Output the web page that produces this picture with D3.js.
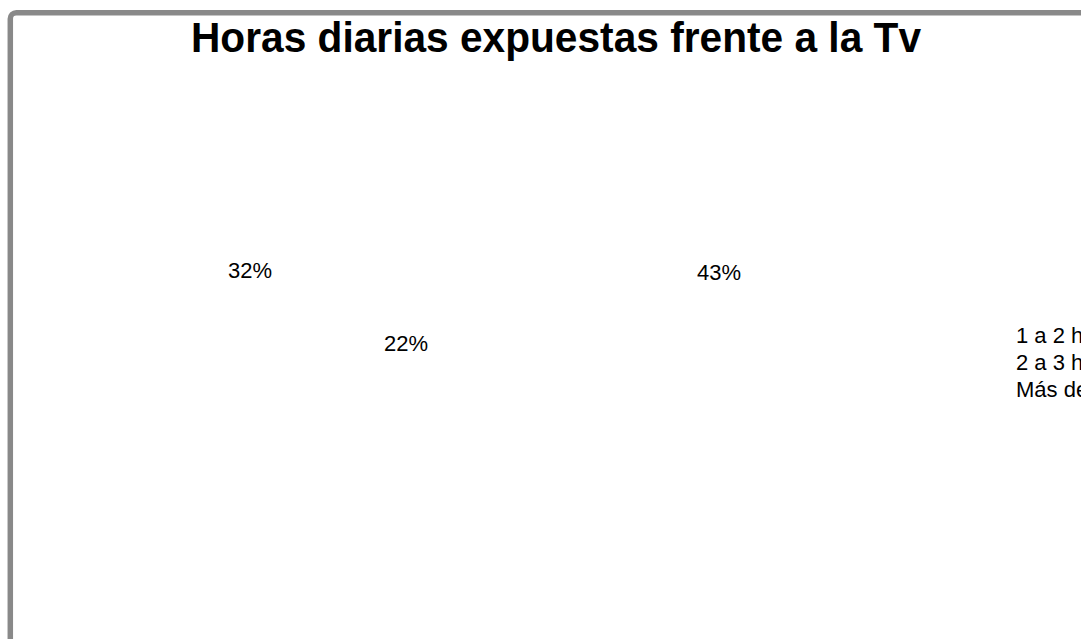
<!DOCTYPE html>
<html>
<head>
<meta charset="utf-8">
<script src="https://cdn.jsdelivr.net/npm/d3@7"></script>
<style>
  html, body { margin: 0; padding: 0; background: #fff; overflow: hidden; }
  svg { display: block; }
</style>
</head>
<body>
<svg id="chart" width="1081" height="639"></svg>
<script>
// ---- data ----
const title = "Horas diarias expuestas frente a la Tv";
const categories = ["1 a 2 horas", "2 a 3 horas", "Más de 3 horas"];
const values = [43, 22, 32];
const valueLabels = ["43%", "22%", "32%"];

// ---- layout (not data) ----
const W = 1081, H = 639;
const pieCenter = [480, 330], pieRadius = 230;
// label anchors as offsets from the pie centre (Excel best-fit placement)
const labelOffsets = [[239, -50], [-74, 21], [-230, -52]];

const svg = d3.select("#chart");

// chart border (extends beyond viewport right/bottom)
svg.append("rect")
  .attr("x", 10.3).attr("y", 12.8)
  .attr("width", 1200).attr("height", 800)
  .attr("rx", 6).attr("ry", 6)
  .attr("fill", "#fff")
  .attr("stroke", "#898989")
  .attr("stroke-width", 5.5);

// title
svg.append("text")
  .attr("x", 556).attr("y", 52)
  .attr("text-anchor", "middle")
  .attr("font-family", "'Liberation Sans', Arial, sans-serif")
  .attr("font-weight", "bold")
  .attr("font-size", 43)
  .attr("textLength", 730)
  .attr("lengthAdjust", "spacingAndGlyphs")
  .attr("fill", "#000")
  .text(title);

// pie (slices have no visible fill in the reference)
const pie = d3.pie().sort(null).value(d => d);
const arcs = pie(values);
const arc = d3.arc().innerRadius(0).outerRadius(pieRadius);
const g = svg.append("g").attr("transform", `translate(${pieCenter[0]},${pieCenter[1]})`);
g.selectAll("path.slice").data(arcs).join("path")
  .attr("class", "slice")
  .attr("d", arc)
  .attr("fill", "#fff")
  .attr("stroke", "none");

g.selectAll("text.lbl").data(arcs).join("text")
  .attr("class", "lbl")
  .attr("x", (d, i) => labelOffsets[i][0])
  .attr("y", (d, i) => labelOffsets[i][1])
  .attr("text-anchor", "middle")
  .attr("font-family", "'Liberation Sans', Arial, sans-serif")
  .attr("font-size", 22)
  .attr("fill", "#000")
  .text((d, i) => valueLabels[i]);

// legend
const legend = svg.append("g");
const ly = d3.scalePoint().domain(categories).range([343, 397]);
legend.selectAll("rect").data(categories).join("rect")
  .attr("x", 1000).attr("y", d => ly(d) - 12)
  .attr("width", 9).attr("height", 9)
  .attr("fill", "#fff");
legend.selectAll("text").data(categories).join("text")
  .attr("x", 1016).attr("y", d => ly(d))
  .attr("font-family", "'Liberation Sans', Arial, sans-serif")
  .attr("font-size", 22)
  .attr("fill", "#000")
  .text(d => d);
</script>
</body>
</html>
